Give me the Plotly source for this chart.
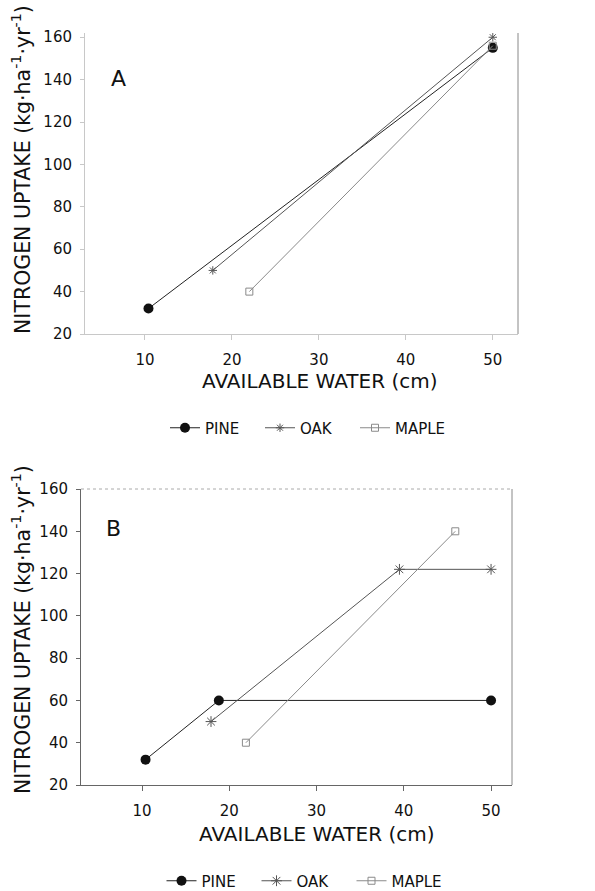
import plotly.graph_objects as go

# ---- data ----
species = ["PINE", "OAK", "MAPLE"]
x_ticks = [10, 20, 30, 40, 50]
y_ticks = [20, 40, 60, 80, 100, 120, 140, 160]

pine_a_x = [10.4, 50]
pine_a_y = [32, 155]
oak_a_x = [17.8, 50]
oak_a_y = [50, 160]
maple_a_x = [22, 50]
maple_a_y = [40, 156]

pine_b_x = [10.4, 18.8, 50]
pine_b_y = [32, 60, 60]
oak_b_x = [17.9, 39.5, 50]
oak_b_y = [50, 122, 122]
maple_b_x = [21.9, 45.9]
maple_b_y = [40, 140]

FONT = "DejaVu Sans, sans-serif"
W, H = 595, 891

colors = {"PINE": "#222222", "OAK": "#555555", "MAPLE": "#8a8a8a"}
markers = {
    "PINE": dict(symbol="circle", size=10, color="#111111"),
    "OAK": dict(symbol="asterisk-open", size=7, color="#555555", line=dict(width=1, color="#555555")),
    "MAPLE": dict(symbol="square-open", size=7, color="#8a8a8a", line=dict(width=1, color="#8a8a8a")),
}

fig = go.Figure()

panel_a = {"PINE": (pine_a_x, pine_a_y), "OAK": (oak_a_x, oak_a_y), "MAPLE": (maple_a_x, maple_a_y)}
panel_b = {"PINE": (pine_b_x, pine_b_y), "OAK": (oak_b_x, oak_b_y), "MAPLE": (maple_b_x, maple_b_y)}

for name in species:
    xs, ys = panel_a[name]
    fig.add_trace(go.Scatter(x=xs, y=ys, mode="lines+markers", name=name,
                             line=dict(color=colors[name], width=1),
                             marker=markers[name], xaxis="x", yaxis="y", legend="legend"))
for name in species:
    xs, ys = panel_b[name]
    mk = dict(markers[name])
    if name == "OAK":
        mk = dict(mk, size=9)
    fig.add_trace(go.Scatter(x=xs, y=ys, mode="lines+markers", name=name,
                             line=dict(color=colors[name], width=1),
                             marker=mk, xaxis="x2", yaxis="y2", legend="legend2"))

tickfont = dict(family=FONT, size=15, color="#111111")

def xax(domain, rng, anchor, linecolor):
    return dict(domain=domain, range=rng, anchor=anchor, tickvals=x_ticks,
                showgrid=False, zeroline=False, showline=True, linecolor=linecolor, linewidth=1,
                ticks="outside", ticklen=5, tickcolor=linecolor, tickfont=tickfont,
                ticklabelstandoff=7, automargin=False)

def yax(domain, rng, anchor, linecolor):
    return dict(domain=domain, range=rng, anchor=anchor, tickvals=y_ticks,
                showgrid=False, zeroline=False, showline=True, linecolor=linecolor, linewidth=1,
                ticks="outside", ticklen=4, tickcolor=linecolor, tickfont=tickfont,
                ticklabelstandoff=5, automargin=False)

xa_dom = [85 / W, 518 / W]
xb_dom = [81 / W, 512 / W]
ya_dom = [1 - 334 / H, 1 - 33 / H]
yb_dom = [1 - 785 / H, 1 - 489 / H]

legend_common = dict(orientation="h", xanchor="center", yanchor="middle",
                     font=dict(family=FONT, size=15, color="#111111"),
                     bgcolor="rgba(0,0,0,0)", itemwidth=30,
                     entrywidth=50, entrywidthmode="pixels")

ytitle = "NITROGEN UPTAKE (kg·ha<sup>-1</sup>·yr<sup>-1</sup>)"
xtitle = "AVAILABLE WATER (cm)"

def ann(text, x, y, size, angle=0):
    return dict(text=text, x=x / W, y=1 - y / H, xref="paper", yref="paper", showarrow=False,
                xanchor="center", yanchor="middle", textangle=angle,
                font=dict(family=FONT, size=size, color="#111111"))

fig.update_layout(
    width=W, height=H,
    margin=dict(l=0, r=0, t=0, b=0, autoexpand=False),
    paper_bgcolor="white", plot_bgcolor="white",
    font=dict(family=FONT, color="#111111"),
    xaxis=xax(xa_dom, [3.1, 52.9], "y", "#c8c8c8"),
    yaxis=yax(ya_dom, [20, 162], "x", "#c8c8c8"),
    xaxis2=xax(xb_dom, [3.0, 52.4], "y2", "#666666"),
    yaxis2=yax(yb_dom, [20, 160], "x2", "#666666"),
    legend=dict(legend_common, x=307.5 / W, y=1 - 428 / H),
    legend2=dict(legend_common, x=304 / W, y=1 - 881 / H),
    showlegend=True,
    shapes=[
        dict(type="line", xref="x domain", yref="y domain", x0=1, x1=1, y0=0, y1=1,
             line=dict(color="#888888", width=1)),
        dict(type="line", xref="x2 domain", yref="y2 domain", x0=1, x1=1, y0=0, y1=1,
             line=dict(color="#888888", width=1)),
        dict(type="line", xref="x2 domain", yref="y2 domain", x0=0, x1=1, y0=1, y1=1,
             line=dict(color="#aaaaaa", width=1, dash="dot")),
    ],
    annotations=[
        ann("A", 118, 78, 22),
        ann("B", 113, 528, 22),
        ann(xtitle, 320, 381, 20),
        ann(xtitle, 317, 834, 20),
        ann(ytitle, 21, 170, 20.5, -90),
        ann(ytitle, 21, 630, 20.5, -90),
    ],
)

fig.write_html("out.html", config={"displayModeBar": False},
               post_script="document.body.style.margin='0px';")
